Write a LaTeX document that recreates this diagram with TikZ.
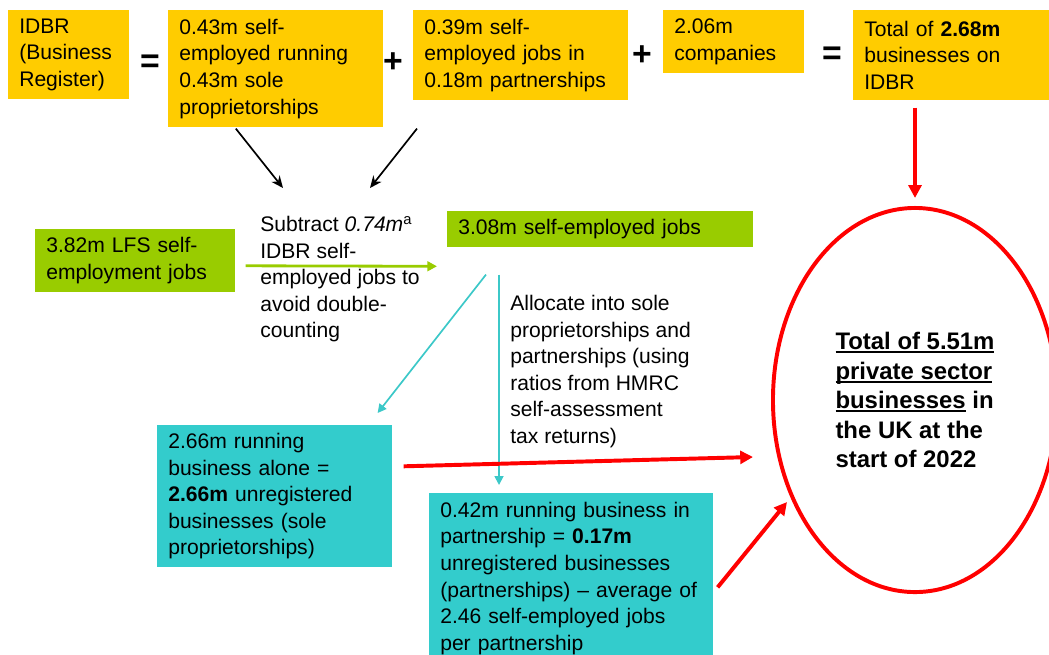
\documentclass[tikz,border=0pt]{standalone}
\usepackage{fontspec}
\setmainfont{Liberation Sans}
\usepackage{xcolor}
\usepackage{tikz}
\usetikzlibrary{positioning, shapes.geometric}
\usetikzlibrary{calc, arrows.meta}
\definecolor{boxyellow}{HTML}{FFCC00}
\definecolor{boxgreen}{HTML}{99CC00}
\definecolor{boxcyan}{HTML}{33CCCC}
\definecolor{linecyan}{HTML}{3CC8C8}
\newcommand{\ulbold}[1]{\setbox0\hbox{#1}\leavevmode\rlap{\rule[-2.6pt]{\wd0}{1.3pt}}\box0\relax}
\tikzstyle{yellowbox} = [rectangle, fill=boxyellow, anchor=north west, align=left, inner xsep=0.275cm, inner ysep=0pt]
\tikzstyle{greenbox} = [rectangle, fill=boxgreen, anchor=north west, align=left, inner xsep=0.275cm, inner ysep=0pt]
\tikzstyle{cyanbox} = [rectangle, fill=boxcyan, anchor=north west, align=left, inner xsep=0.275cm, inner ysep=0pt]
\tikzstyle{note} = [anchor=north west, align=left, inner sep=0pt]
\tikzstyle{sign} = [font=\fontsize{24}{24}\selectfont\bfseries]
\tikzstyle{total} = [ellipse, draw=red, line width=2.8pt, inner sep=0pt, minimum width=7.1cm, minimum height=9.6cm, align=left, font=\fontsize{17}{21}\selectfont\bfseries]
\tikzstyle{arrow} = [line width=1.2pt,-{Stealth[length=3mm,width=2.6mm]}]
\tikzstyle{greenarrow} = [line width=2pt, draw=boxgreen, -{Triangle[length=2.4mm,width=2.4mm]}]
\tikzstyle{cyanarrow} = [line width=1.2pt, draw=linecyan, -{Triangle[length=2.2mm,width=2.2mm]}]
\tikzstyle{redarrow} = [line width=2.8pt, draw=red, -{Triangle[length=3.2mm,width=3.2mm]}]
\tikzstyle{every node}=[font=\fontsize{15}{18.9}\selectfont]

\begin{document}
\begin{tikzpicture}[x=0.025cm, y=-0.025cm]
		\useasboundingbox (0,0) rectangle (1049,654);
		\clip (0,0) rectangle (1049,654);
		% top row: the IDBR sum
		\node (idbr) [yellowbox, text width=2.475cm, minimum height=2.225cm] at (8,10) {IDBR\\(Business\\Register)};
		\node (eqA) [sign] at (150,64) {=};
		\node (soleprop) [yellowbox, text width=4.825cm, minimum height=2.925cm] at (168,10) {0.43m self-\\employed running\\0.43m sole\\proprietorships};
		\node (plusA) [sign] at (393,63) {+};
		\node (partjobs) [yellowbox, text width=4.825cm, minimum height=2.25cm] at (413,10) {0.39m self-\\employed jobs in\\0.18m partnerships};
		\node (plusB) [sign] at (642,56) {+};
		\node (comps) [yellowbox, text width=2.975cm, minimum height=1.575cm] at (663,10) {2.06m\\companies};
		\node (eqB) [sign] at (832,56) {=};
		\node (idbrtot) [yellowbox, text width=4.45cm, minimum height=2.25cm] at (853,10) {Total of \textbf{2.68m}\\businesses on\\IDBR};
		% middle row
		\node (lfs) [greenbox, text width=4.45cm, minimum height=1.575cm] at (35,229) {3.82m LFS self-\\employment jobs};
		\node (subtr) [note] at (260,216) {Subtract \textit{0.74m}\textsuperscript{a}\\IDBR self-\\employed jobs to\\avoid double-\\counting};
		\node (sejobs) [greenbox, text width=7.1cm, minimum height=0.9cm] at (447,211) {3.08m self-employed jobs};
		\node (alloc) [note] at (510,295) {Allocate into sole\\proprietorships and\\partnerships (using\\ratios from HMRC\\self-assessment\\tax returns)};
		% bottom row
		\node (alone) [cyanbox, text width=5.325cm, minimum height=3.55cm] at (157,425) {2.66m running\\business alone =\\\textbf{2.66m} unregistered\\businesses (sole\\proprietorships)};
		\node (inpart) [cyanbox, text width=6.55cm, minimum height=4.25cm] at (429,493) {0.42m running business in\\partnership = \textbf{0.17m}\\unregistered businesses\\(partnerships) – average of\\2.46 self-employed jobs\\per partnership};
		\node (total) [total] at (915,400) {\ulbold{Total of 5.51m}\\\ulbold{private sector}\\\ulbold{businesses} in\\the UK at the\\start of 2022};
		% connectors
		\draw [arrow] ($(soleprop.south)+(-40,1)$) -- ($(subtr.north west)+(23,-28)$);
		\draw [arrow] ($(partjobs.south west)+(4,28)$) -- ($(subtr.north west)+(110,-28)$);
		\draw [greenarrow] ($(lfs.east)+(10,5)$) -- ($(sejobs.west)+(-10,37)$);
		\draw [cyanarrow] ($(sejobs.south west)+(39,27)$) -- ($(alone.north east)+(-15,-12)$);
		\draw [cyanarrow] ($(sejobs.south west)+(52,27)$) -- ($(inpart.north west)+(70,-8)$);
		\draw [redarrow] ($(alone.east)+(11,-30)$) -- ($(total.west)+(-18,57)$);
		\draw [redarrow] ($(inpart.east)+(4,9)$) -- ($(total.west)+(16,102)$);
		\draw [redarrow] ($(idbrtot.south -| total.north)+(0,7)$) -- ($(total.north)+(0,-8)$);
	\end{tikzpicture}
\end{document}
